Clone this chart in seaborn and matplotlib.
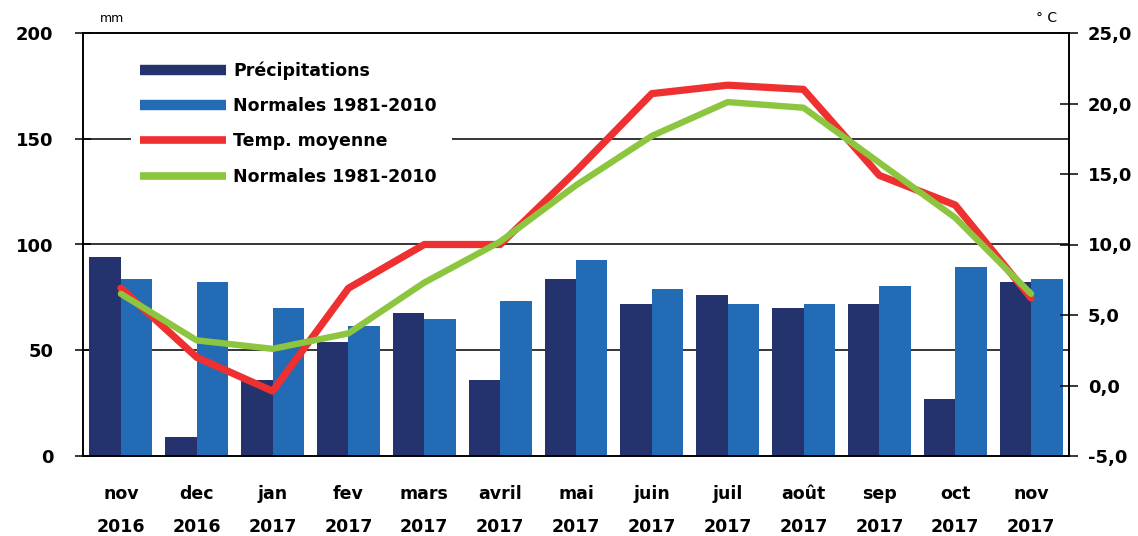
import matplotlib
matplotlib.use('Agg')
import numpy as np
import pandas as pd
import seaborn as sns
from matplotlib import pyplot as plt
from matplotlib.lines import Line2D
from matplotlib.ticker import FuncFormatter

# data
months = ['nov\n2016', 'dec\n2016', 'jan\n2017', 'fev\n2017', 'mars\n2017', 'avril\n2017',
          'mai\n2017', 'juin\n2017', 'juil\n2017', 'août\n2017', 'sep\n2017', 'oct\n2017', 'nov\n2017']
precip = [94, 9, 36, 54, 67.5, 36, 83.5, 72, 76, 70, 72, 27, 82.5]
precip_normals = [83.5, 82.5, 70, 61.5, 65, 73.5, 92.5, 79, 72, 72, 80.5, 89.5, 83.5]
temp_mean = [6.9, 2.0, -0.4, 6.9, 10.0, 10.0, 15.2, 20.7, 21.3, 21.0, 14.9, 12.8, 6.2]
temp_normals = [6.5, 3.2, 2.6, 3.7, 7.3, 10.2, 14.2, 17.7, 20.1, 19.7, 15.8, 11.9, 6.5]

lbl_precip = 'Précipitations'
lbl_pnorm = 'Normales 1981-2010'
lbl_temp = 'Temp. moyenne'
lbl_tnorm = 'Normales 1981-2010 '

DARK = '#24326e'
LIGHT = '#236cb5'
RED = '#ee3030'
GREEN = '#8cc63f'

sns.set_style('white')
plt.rcParams['font.family'] = ['DejaVu Sans']
plt.rcParams['font.weight'] = 'bold'
plt.rcParams['text.color'] = 'black'
plt.rcParams['xtick.color'] = 'black'
plt.rcParams['ytick.color'] = 'black'

df = pd.DataFrame({
    'mois': months * 2,
    'valeur': precip + precip_normals,
    'serie': [lbl_precip] * len(months) + [lbl_pnorm] * len(months),
})

fig = plt.figure(figsize=(11.38, 5.36), dpi=100)
ax = fig.add_axes([83 / 1138, 1 - 456 / 536, 986 / 1138, 423 / 536])

sns.barplot(data=df, x='mois', y='valeur', hue='serie', order=months,
            palette=[DARK, LIGHT], width=0.83, saturation=1, linewidth=0,
            ax=ax, legend=False)
ax.set_ylim(0, 200)
ax.set_xlim(-0.5, len(months) - 0.5)
ax.set_yticks([0, 50, 100, 150, 200])
ax.set_axisbelow(True)
for y in [50, 100, 150]:
    ax.axhline(y, color='black', lw=1.1, zorder=0)
ax.set_xlabel('')
ax.set_ylabel('')

# x ticks between categories
ax.set_xticks(np.arange(len(months)))
ax.set_xticklabels(months, fontsize=12.5, fontweight='bold', linespacing=2.05)
ax.set_xticks(np.arange(len(months) + 1) - 0.5, minor=True)
ax.tick_params(axis='x', which='major', length=0, pad=21, labelcolor='black')
ax.tick_params(axis='x', which='minor', direction='inout', length=9, width=1.1, color='black')
ax.tick_params(axis='y', direction='inout', length=11, width=1.1, color='black',
               labelsize=13, pad=16, labelcolor='black')
for t in ax.get_yticklabels():
    t.set_fontweight('bold')

for s in ax.spines.values():
    s.set_color('black')
    s.set_linewidth(1.2)

ax2 = ax.twinx()
x = np.arange(len(months))
sns.lineplot(x=x, y=temp_mean, ax=ax2, color=RED, lw=5.2, legend=False)
sns.lineplot(x=x, y=temp_normals, ax=ax2, color=GREEN, lw=4.6, legend=False)
ax2.set_ylim(-5, 25)
ax2.set_yticks(np.arange(-5, 26, 5))
ax2.yaxis.set_major_formatter(FuncFormatter(lambda v, p: f'{v:.1f}'.replace('.', ',')))
ax2.tick_params(axis='y', direction='inout', length=13, width=1.1, color='black',
                labelsize=13, pad=7, labelcolor='black')
for t in ax2.get_yticklabels():
    t.set_fontweight('bold')
for s in ax2.spines.values():
    s.set_color('black')
    s.set_linewidth(1.2)
ax2.set_ylabel('')

handles = [Line2D([], [], color=DARK, lw=7.5, solid_capstyle='butt'),
           Line2D([], [], color=LIGHT, lw=7.5, solid_capstyle='butt'),
           Line2D([], [], color=RED, lw=5.5, solid_capstyle='butt'),
           Line2D([], [], color=GREEN, lw=5.5, solid_capstyle='butt')]
leg = ax2.legend(handles, [lbl_precip, lbl_pnorm, lbl_temp, lbl_tnorm],
                 loc='upper left', bbox_to_anchor=(0.115, 0.902),
                 bbox_transform=fig.transFigure, frameon=True, fancybox=False,
                 framealpha=1, handlelength=5.0, handletextpad=0.4,
                 labelspacing=1.0, borderpad=0.5, borderaxespad=0,
                 prop={'size': 12.5, 'weight': 'bold'})
leg.get_frame().set_facecolor('white')
leg.get_frame().set_edgecolor('none')

fig.text(100 / 1138, 1 - 18 / 536, 'mm', fontsize=9, fontweight='normal', va='center')
fig.text(1036 / 1138, 1 - 18 / 536, '° C', fontsize=10, fontweight='normal', va='center')

fig.savefig('out.png', dpi=100)
